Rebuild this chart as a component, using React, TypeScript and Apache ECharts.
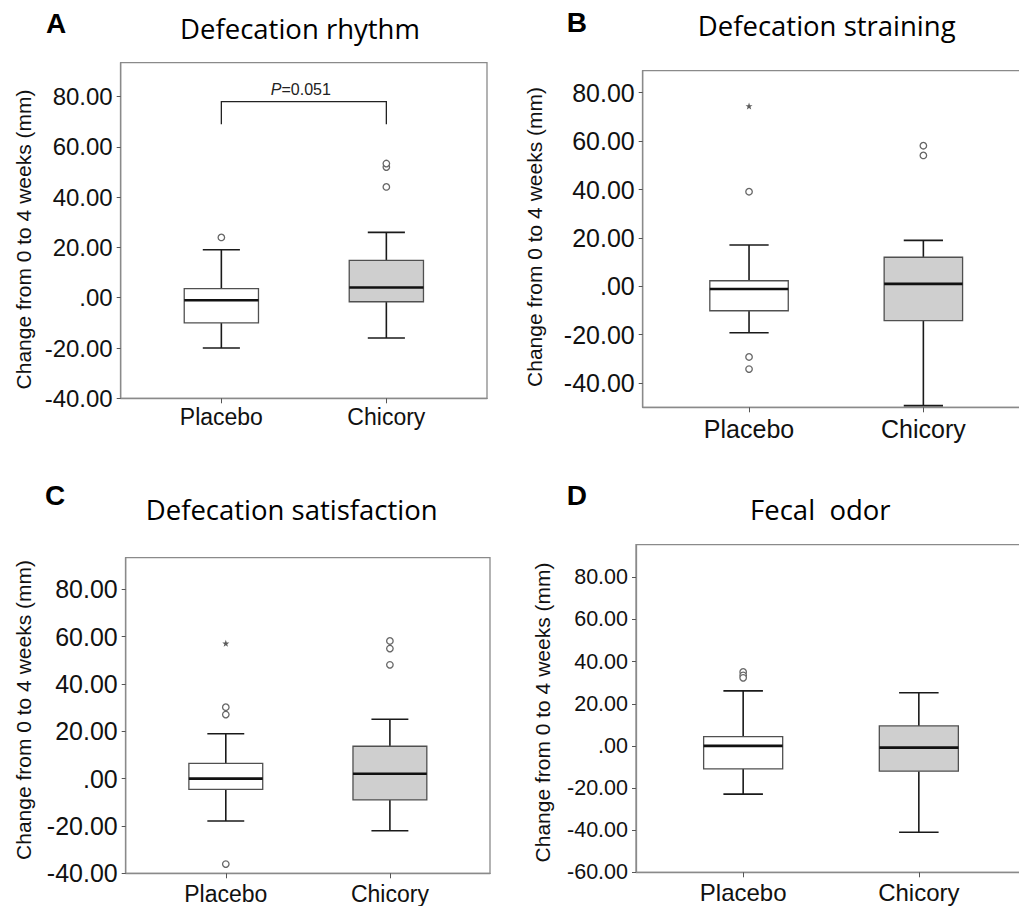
import React, { useEffect, useRef } from 'react';
import * as echarts from 'echarts';

// ---------- data ----------
const groups = ['Placebo', 'Chicory'];
const groupPos = [1, 2];

// each box: [lower whisker, Q1, median, Q3, upper whisker]
const rhythmBoxes = [
  [-20.0, -10.0, -1.0, 3.6, 19.1],
  [-16.0, -1.6, 4.1, 14.9, 26.0],
];
const rhythmOutliers = [[24.0], [44.1, 52.0, 53.4]];
const rhythmExtremes: number[][] = [[], []];

const strainingBoxes = [
  [-19.2, -10.1, -1.1, 2.3, 17.1],
  [-49.3, -14.2, 1.0, 12.0, 19.0],
];
const strainingOutliers = [[39.1, -29.2, -34.2], [58.1, 54.1]];
const strainingExtremes: number[][] = [[74.5], []];

const satisfactionBoxes = [
  [-17.9, -4.5, 0.0, 6.5, 19.0],
  [-22.0, -9.0, 2.1, 13.7, 25.1],
];
const satisfactionOutliers = [[30.2, 27.1, -36.1], [58.2, 55.0, 48.1]];
const satisfactionExtremes: number[][] = [[57.2], []];

const odorBoxes = [
  [-22.9, -10.9, 0.0, 4.4, 26.1],
  [-41.0, -12.0, -0.8, 9.5, 25.2],
];
const odorOutliers = [[35.1, 33.5, 32.3], []];
const odorExtremes: number[][] = [[], []];

const ticksA = [-40, -20, 0, 20, 40, 60, 80];
const ticksB = [-40, -20, 0, 20, 40, 60, 80];
const ticksC = [-40, -20, 0, 20, 40, 60, 80];
const ticksD = [-60, -40, -20, 0, 20, 40, 60, 80];

const rangeA = [-40, 93.5];
const rangeB = [-50, 89.1];
const rangeC = [-40, 93.4];
const rangeD = [-60, 95.5];

// P-value bracket for panel A: [from group, to group, foot value, top value]
const bracketA = [[1, 2, 69, 78]];
const pValueA = '0.051';

const yAxisTitle = 'Change from 0 to 4 weeks (mm)';

// ---------- layout / style ----------
const ARIAL = '"Liberation Sans", Arial, sans-serif';
const TITLE_FONT = '"Open Sans", "Noto Sans", sans-serif';
const BOX_HALF = 0.225;
const CAP_HALF = 0.1125;
const X_RANGE = [0.39, 2.61];

const panels = [
  {
    letter: 'A', title: 'Defecation rhythm', boxes: rhythmBoxes, outliers: rhythmOutliers, extremes: rhythmExtremes,
    ticks: ticksA, range: rangeA, grid: { left: 120.7, top: 62.7, width: 366.3, height: 335.6 },
    tickFont: 24, catFont: 23, catMargin: 7, letterPos: [46, 23], titlePos: [300, 28.3], titleSize: 27.5, yTitlePos: [23, 239.5],
  },
  {
    letter: 'B', title: 'Defecation straining', boxes: strainingBoxes, outliers: strainingOutliers, extremes: strainingExtremes,
    ticks: ticksB, range: rangeB, grid: { left: 642.7, top: 70.7, width: 387, height: 336.6 },
    tickFont: 25, catFont: 25, catMargin: 9, letterPos: [566.7, 22.7], titlePos: [826.7, 25.8], titleSize: 27.5, yTitlePos: [534, 237],
  },
  {
    letter: 'C', title: 'Defecation satisfaction', boxes: satisfactionBoxes, outliers: satisfactionOutliers, extremes: satisfactionExtremes,
    ticks: ticksC, range: rangeC, grid: { left: 125.7, top: 557.7, width: 364.3, height: 315.6 },
    tickFont: 25, catFont: 23, catMargin: 9, letterPos: [45, 495], titlePos: [291.7, 509], titleSize: 27.5, yTitlePos: [23, 710],
  },
  {
    letter: 'D', title: 'Fecal  odor', boxes: odorBoxes, outliers: odorOutliers, extremes: odorExtremes,
    ticks: ticksD, range: rangeD, grid: { left: 636, top: 544.7, width: 390, height: 327.6 },
    tickFont: 21.5, catFont: 24, catMargin: 8, letterPos: [566.7, 495], titlePos: [820.3, 509], titleSize: 27.5, yTitlePos: [542.3, 712.5],
  },
];

const STAR = 'path://M0,-10 L2.4,-3.2 L9.5,-3.1 L3.8,1.2 L5.9,8.1 L0,4 L-5.9,8.1 L-3.8,1.2 L-9.5,-3.1 L-2.4,-3.2 Z';

function renderBox(params: any, api: any) {
  const x = api.value(0);
  const lo = api.value(1), q1 = api.value(2), med = api.value(3), q3 = api.value(4), hi = api.value(5);
  const fill = params.dataIndex === 0 ? '#ffffff' : '#cfcfcf';
  const tl = api.coord([x - BOX_HALF, q3]);
  const br = api.coord([x + BOX_HALF, q1]);
  const mL = api.coord([x - BOX_HALF, med]);
  const mR = api.coord([x + BOX_HALF, med]);
  const hiC = api.coord([x, hi]);
  const q3C = api.coord([x, q3]);
  const q1C = api.coord([x, q1]);
  const loC = api.coord([x, lo]);
  const hiL = api.coord([x - CAP_HALF, hi]);
  const hiR = api.coord([x + CAP_HALF, hi]);
  const loL = api.coord([x - CAP_HALF, lo]);
  const loR = api.coord([x + CAP_HALF, lo]);
  const wStyle = { stroke: '#1a1a1a', lineWidth: 1.6 };
  return {
    type: 'group',
    children: [
      { type: 'line', shape: { x1: hiC[0], y1: hiC[1], x2: q3C[0], y2: q3C[1] }, style: wStyle },
      { type: 'line', shape: { x1: q1C[0], y1: q1C[1], x2: loC[0], y2: loC[1] }, style: wStyle },
      { type: 'line', shape: { x1: hiL[0], y1: hiL[1], x2: hiR[0], y2: hiR[1] }, style: wStyle },
      { type: 'line', shape: { x1: loL[0], y1: loL[1], x2: loR[0], y2: loR[1] }, style: wStyle },
      {
        type: 'rect',
        shape: { x: tl[0], y: tl[1], width: br[0] - tl[0], height: br[1] - tl[1] },
        style: { fill, stroke: '#505050', lineWidth: 1.3 },
      },
      { type: 'line', shape: { x1: mL[0], y1: mL[1], x2: mR[0], y2: mR[1] }, style: { stroke: '#111', lineWidth: 2.6 } },
    ],
  };
}

function renderBracket(params: any, api: any) {
  const a = api.coord([api.value(0), api.value(2)]);
  const b = api.coord([api.value(0), api.value(3)]);
  const c = api.coord([api.value(1), api.value(3)]);
  const d = api.coord([api.value(1), api.value(2)]);
  return {
    type: 'group',
    children: [
      { type: 'polyline', shape: { points: [a, b, c, d] }, style: { stroke: '#222', lineWidth: 1.3, fill: 'none' } },
      {
        type: 'text',
        x: (b[0] + c[0]) / 2 - 3,
        y: b[1] - 4,
        style: {
          text: '{i|P}=' + pValueA,
          rich: { i: { fontStyle: 'italic', fontSize: 16, fontFamily: ARIAL, fill: '#222' } },
          fontSize: 16,
          fontFamily: ARIAL,
          fill: '#222',
          align: 'center',
          verticalAlign: 'bottom',
        },
      },
    ],
  };
}

function fmtTick(v: number) {
  if (v === 0) return '.00';
  return v.toFixed(2);
}

export default function App() {
  const ref = useRef<HTMLDivElement>(null);
  useEffect(() => {
    if (!ref.current) return;
    const chart = echarts.init(ref.current, undefined, { renderer: 'svg' });
    const grids: any[] = [];
    const xAxes: any[] = [];
    const yAxes: any[] = [];
    const series: any[] = [];
    const graphics: any[] = [];

    panels.forEach((p, i) => {
      grids.push({
        ...p.grid,
        show: true,
        borderColor: '#8a8a8a',
        borderWidth: 1.3,
        backgroundColor: 'transparent',
        containLabel: false,
        outerBoundsMode: 'none',
      });
      xAxes.push({
        type: 'value',
        gridIndex: i,
        min: X_RANGE[0],
        max: X_RANGE[1],
        splitLine: { show: false },
        axisLine: { show: true, onZero: false, lineStyle: { color: '#8a8a8a', width: 1.3 } },
        axisTick: { show: true, customValues: groupPos, length: 5, lineStyle: { color: '#555' } },
        axisLabel: {
          show: true,
          customValues: groupPos,
          formatter: (v: number) => groups[Math.round(v) - 1] ?? '',
          fontSize: p.catFont,
          fontFamily: ARIAL,
          color: '#111',
          margin: p.catMargin,
        },
      });
      yAxes.push({
        type: 'value',
        gridIndex: i,
        min: p.range[0],
        max: p.range[1],
        splitLine: { show: false },
        axisLine: { show: true, onZero: false, lineStyle: { color: '#8a8a8a', width: 1.3 } },
        axisTick: { show: true, customValues: p.ticks, length: 4, lineStyle: { color: '#555' } },
        axisLabel: {
          show: true,
          customValues: p.ticks,
          formatter: (v: number) => fmtTick(v),
          fontSize: p.tickFont,
          fontFamily: ARIAL,
          color: '#111',
          margin: 8,
        },
      });
      series.push({
        type: 'custom',
        xAxisIndex: i,
        yAxisIndex: i,
        silent: true,
        clip: false,
        renderItem: renderBox,
        encode: { x: 0, y: [1, 2, 3, 4, 5] },
        data: p.boxes.map((b, k) => [groupPos[k], ...b]),
        z: 2,
      });
      series.push({
        type: 'scatter',
        xAxisIndex: i,
        yAxisIndex: i,
        silent: true,
        symbol: 'circle',
        symbolSize: 6.5,
        itemStyle: { color: '#ffffff', borderColor: '#666', borderWidth: 1.3, opacity: 1 },
        data: p.outliers.flatMap((arr, k) => arr.map((v) => [groupPos[k], v])),
        z: 3,
      });
      series.push({
        type: 'scatter',
        xAxisIndex: i,
        yAxisIndex: i,
        silent: true,
        symbol: STAR,
        symbolSize: 7,
        itemStyle: { color: '#333' },
        data: p.extremes.flatMap((arr, k) => arr.map((v) => [groupPos[k], v])),
        z: 3,
      });
      graphics.push({
        type: 'text',
        x: p.letterPos[0],
        y: p.letterPos[1],
        style: { text: p.letter, fontSize: 28, fontWeight: 'bold', fontFamily: ARIAL, fill: '#000', align: 'left', verticalAlign: 'middle' },
      });
      graphics.push({
        type: 'text',
        x: p.titlePos[0],
        y: p.titlePos[1],
        style: { text: p.title, fontSize: p.titleSize, fontFamily: TITLE_FONT, fill: '#000', align: 'center', verticalAlign: 'middle' },
      });
      graphics.push({
        type: 'text',
        x: p.yTitlePos[0],
        y: p.yTitlePos[1],
        rotation: Math.PI / 2,
        style: { text: yAxisTitle, fontSize: 21, fontFamily: ARIAL, fill: '#111', align: 'center', verticalAlign: 'middle' },
      });
    });

    series.push({
      type: 'custom',
      xAxisIndex: 0,
      yAxisIndex: 0,
      silent: true,
      clip: false,
      renderItem: renderBracket,
      encode: { x: [0, 1], y: [2, 3] },
      data: bracketA,
      z: 4,
    });

    chart.setOption({
      animation: false,
      backgroundColor: '#ffffff',
      grid: grids,
      xAxis: xAxes,
      yAxis: yAxes,
      series,
      graphic: graphics,
    });
    return () => chart.dispose();
  }, []);
  return (
    <div
      ref={ref}
      style={{ position: 'fixed', left: 0, top: 0, width: 1019, height: 906, background: '#fff' }}
    />
  );
}
